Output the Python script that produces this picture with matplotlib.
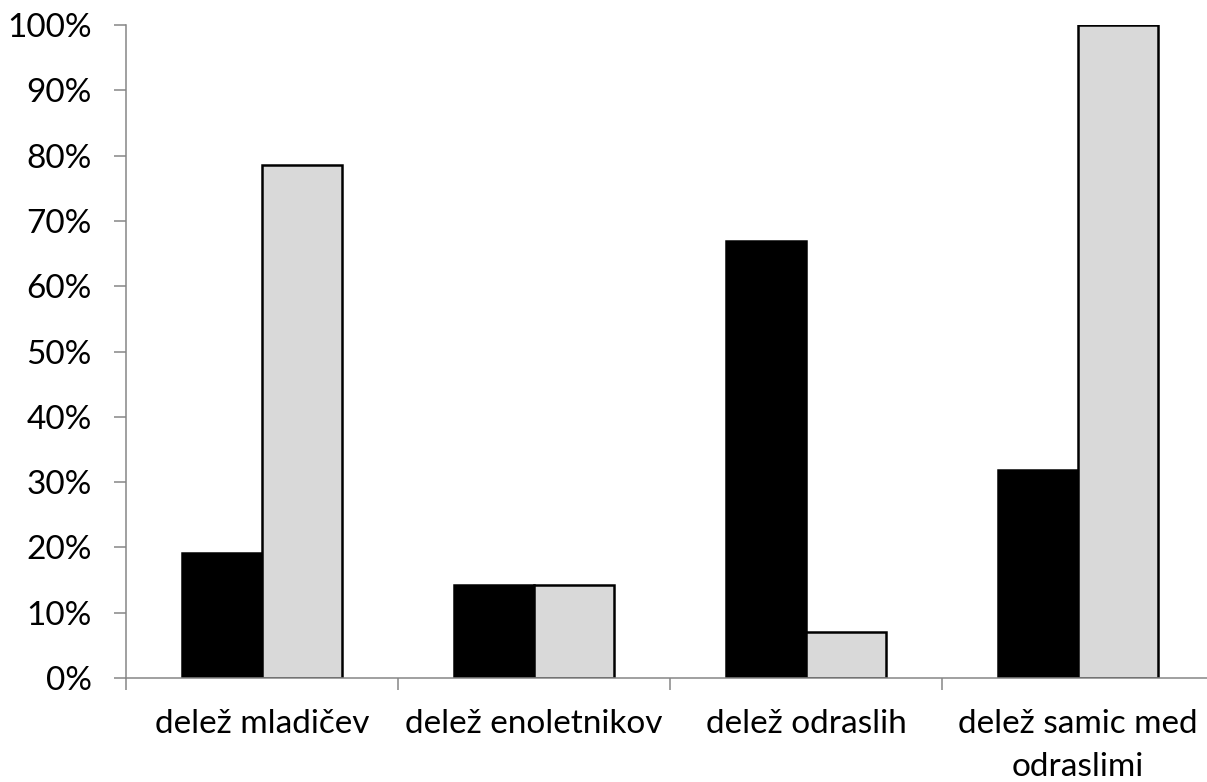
import numpy as np
import matplotlib.pyplot as plt
from matplotlib.ticker import FuncFormatter

# ─────────── data ───────────
categories = ['delež mladičev', 'delež enoletnikov', 'delež odraslih', 'delež samic med\nodraslimi']
black_vals = [19.2, 14.3, 66.9, 31.9]
gray_vals  = [78.6, 14.3, 7.1, 100.0]

plt.rcParams['font.family'] = ['Lato', 'DejaVu Sans']
AXIS_COL = '#868686'

fig = plt.figure(figsize=(12.07, 7.82), dpi=100)
ax = fig.add_axes([126 / 1207, 104 / 782, 1088 / 1207, 653 / 782])

x = np.arange(len(categories))
w = 0.294
ax.bar(x - w / 2, black_vals, width=w, color='black', edgecolor='black', linewidth=1.8, zorder=2)
ax.bar(x + w / 2, gray_vals, width=w, color='#D9D9D9', edgecolor='black', linewidth=1.8, zorder=2)

ax.set_xlim(-0.5, len(categories) - 0.5)
ax.set_ylim(0, 100)

# y axis
ax.set_yticks(np.arange(0, 101, 10))
ax.yaxis.set_major_formatter(FuncFormatter(lambda v, _: f'{v:.0f}%'))
ax.tick_params(axis='y', direction='out', length=8.5, width=1.1, color=AXIS_COL,
               labelsize=24, pad=16)

# x axis: tick marks on category boundaries, labels at centres
ax.set_xticks(np.arange(-0.5, len(categories), 1.0))
ax.set_xticklabels([])
ax.tick_params(axis='x', which='major', direction='out', length=8.5, width=1.1, color=AXIS_COL)
ax.set_xticks(x, minor=True)
ax.set_xticklabels(categories, minor=True, fontsize=24, linespacing=1.55)
ax.tick_params(axis='x', which='minor', length=0, pad=22)

for s in ['top', 'right']:
    ax.spines[s].set_visible(False)
for s in ['left', 'bottom']:
    ax.spines[s].set_color(AXIS_COL)
    ax.spines[s].set_linewidth(1.1)
    ax.spines[s].set_zorder(3)

fig.savefig('out.png', dpi=100)
